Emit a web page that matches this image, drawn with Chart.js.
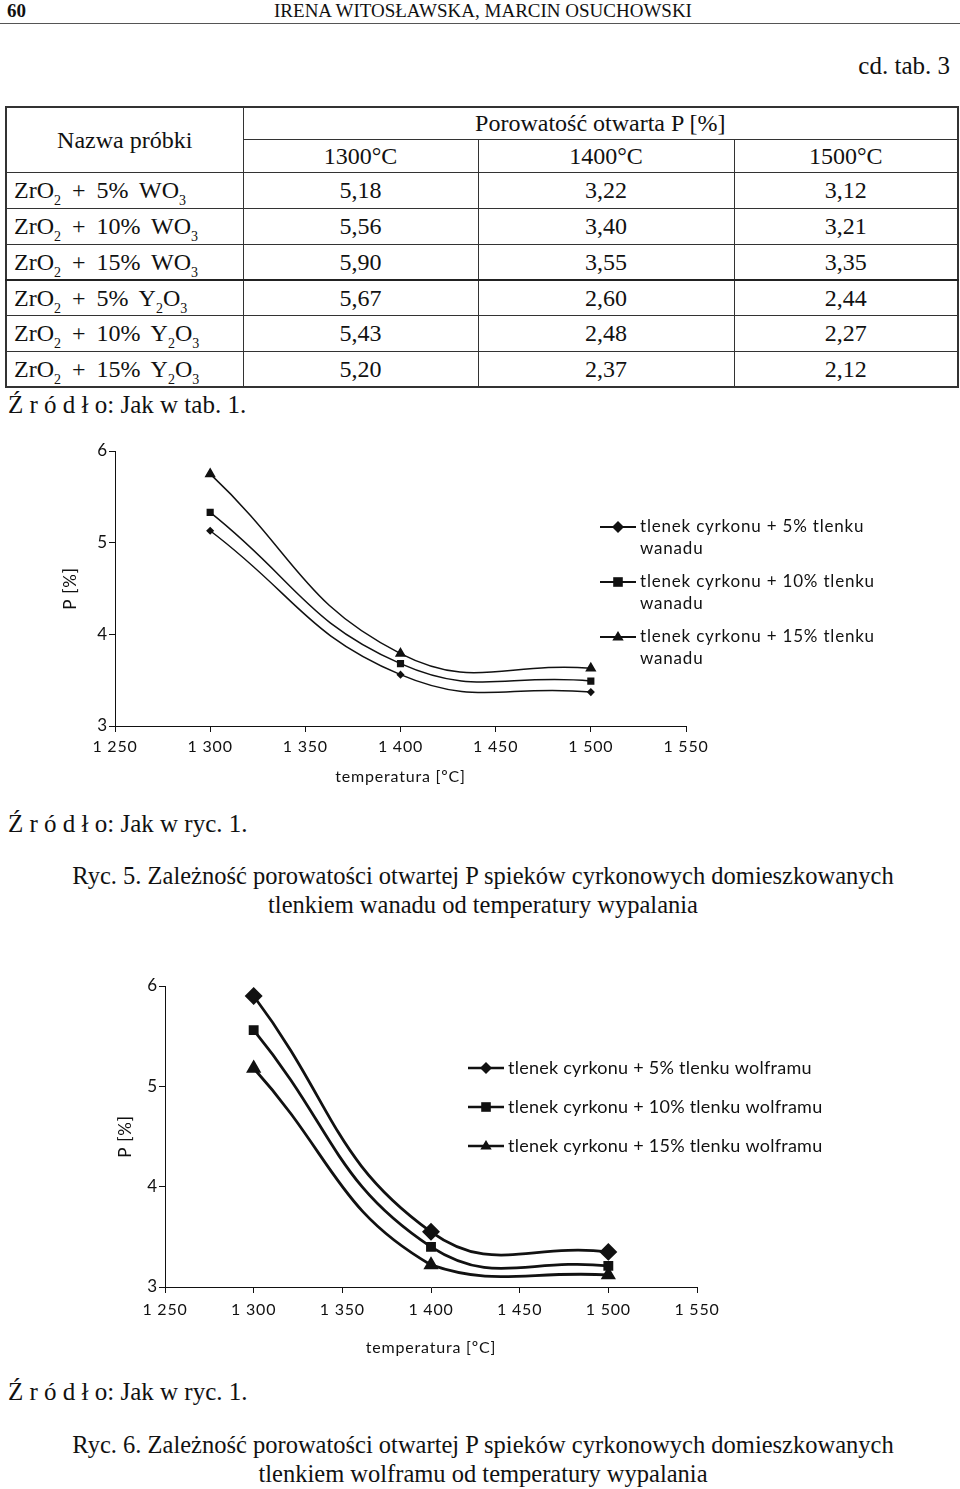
<!DOCTYPE html>
<html lang="pl">
<head>
<meta charset="utf-8">
<script src="https://cdn.jsdelivr.net/npm/chart.js@4.4.0/dist/chart.umd.min.js"></script>
<style>
  body { margin: 0; width: 960px; height: 1489px; position: relative; background: #fff; overflow: hidden;
         font-family: "Liberation Serif", "Times New Roman", serif; color: #111; }
  .t { position: absolute; white-space: nowrap; line-height: 1.15; }
  .rule { position: absolute; left: 0; top: 23px; width: 960px; height: 1px; background: #555; }
  table { position: absolute; left: 5px; top: 106px; width: 952px; border-collapse: collapse; table-layout: fixed;
          font-family: "Liberation Serif", serif; font-size: 24px; border: 2px solid #333; }
  td { border: 1.5px solid #333; padding: 0; text-align: center; line-height: 22px; }
  td.name { text-align: left; padding-left: 7px; word-spacing: 5px; }
  tr.sep td { border-top: 2.5px solid #222; }
  sub { font-size: 14px; vertical-align: -7px; line-height: 0; }
  .src { font-size: 25px; }
  .cap { font-size: 24.5px; width: 960px; left: 3px; text-align: center; }
  canvas { position: absolute; left: 0; }
</style>
</head>
<body>
<div class="t" style="left:7px;top:0;font-size:19px;font-weight:bold;">60</div>
<div class="t" style="left:0;width:966px;text-align:center;top:0;font-size:19px;">IRENA WITOSŁAWSKA, MARCIN OSUCHOWSKI</div>
<div class="rule"></div>
<div class="t" style="right:10px;top:52px;font-size:25px;">cd. tab. 3</div>

<table>
  <colgroup><col style="width:237px"><col style="width:235px"><col style="width:256px"><col style="width:224px"></colgroup>
  <tr style="height:32px"><td rowspan="2">Nazwa próbki</td><td colspan="3">Porowatość otwarta P [%]</td></tr>
  <tr style="height:33px"><td>1300°C</td><td>1400°C</td><td>1500°C</td></tr>
  <tbody id="rows"></tbody>
</table>

<div class="t src" style="left:8px;top:391px;">Ź r ó d ł o: Jak w tab. 1.</div>
<canvas id="c1" width="960" height="370" style="top:430px;width:960px;height:370px;"></canvas>
<div class="t src" style="left:8px;top:810px;">Ź r ó d ł o: Jak w ryc. 1.</div>
<div class="t cap" style="top:862px;">Ryc. 5. Zależność porowatości otwartej P spieków cyrkonowych domieszkowanych</div>
<div class="t cap" style="top:891px;">tlenkiem wanadu od temperatury wypalania</div>

<canvas id="c2" width="960" height="400" style="top:970px;width:960px;height:400px;"></canvas>
<div class="t src" style="left:8px;top:1378px;">Ź r ó d ł o: Jak w ryc. 1.</div>
<div class="t cap" style="top:1431px;">Ryc. 6. Zależność porowatości otwartej P spieków cyrkonowych domieszkowanych</div>
<div class="t cap" style="top:1460px;">tlenkiem wolframu od temperatury wypalania</div>

<script>
// table 3 (continued)
const sampleNames = [
  'ZrO<sub>2</sub> + 5% WO<sub>3</sub>',
  'ZrO<sub>2</sub> + 10% WO<sub>3</sub>',
  'ZrO<sub>2</sub> + 15% WO<sub>3</sub>',
  'ZrO<sub>2</sub> + 5% Y<sub>2</sub>O<sub>3</sub>',
  'ZrO<sub>2</sub> + 10% Y<sub>2</sub>O<sub>3</sub>',
  'ZrO<sub>2</sub> + 15% Y<sub>2</sub>O<sub>3</sub>'
];
const p1300 = ['5,18', '5,56', '5,90', '5,67', '5,43', '5,20'];
const p1400 = ['3,22', '3,40', '3,55', '2,60', '2,48', '2,37'];
const p1500 = ['3,12', '3,21', '3,35', '2,44', '2,27', '2,12'];
const rowHeights = [36, 36, 36, 35, 36, 36];

// Ryc. 5 - tlenek wanadu
const temps = [1300, 1400, 1500];
const vanadium5 = [5.13, 3.56, 3.37];
const vanadium10 = [5.33, 3.68, 3.49];
const vanadium15 = [5.75, 3.79, 3.63];
const vanadiumLabels = [
  ['tlenek cyrkonu + 5% tlenku', 'wanadu'],
  ['tlenek cyrkonu + 10% tlenku', 'wanadu'],
  ['tlenek cyrkonu + 15% tlenku', 'wanadu']
];

// Ryc. 6 - tlenek wolframu (as plotted)
const tungsten5 = [5.90, 3.55, 3.35];
const tungsten10 = [5.56, 3.40, 3.21];
const tungsten15 = [5.18, 3.22, 3.12];
const tungstenLabels = [
  ['tlenek cyrkonu + 5% tlenku wolframu'],
  ['tlenek cyrkonu + 10% tlenku wolframu'],
  ['tlenek cyrkonu + 15% tlenku wolframu']
];

const xTicks = { min: 1250, max: 1550, step: 50 };
const yTicks = { min: 3, max: 6, step: 1 };
const markers = ['rectRot', 'rect', 'triangle'];

const tbody = document.getElementById('rows');
sampleNames.forEach((name, i) => {
  const tr = document.createElement('tr');
  tr.style.height = rowHeights[i] + 'px';
  if (i === 3) tr.className = 'sep';
  tr.innerHTML = `<td class="name">${name}</td><td>${p1300[i]}</td><td>${p1400[i]}</td><td>${p1500[i]}</td>`;
  tbody.appendChild(tr);
});

function marker(ctx, style, r, x, y) {
  ctx.beginPath();
  if (style === 'rectRot') {
    ctx.moveTo(x, y - r); ctx.lineTo(x + r, y); ctx.lineTo(x, y + r); ctx.lineTo(x - r, y);
  } else if (style === 'rect') {
    ctx.rect(x - r * 0.8, y - r * 0.8, r * 1.6, r * 1.6);
  } else {
    ctx.moveTo(x, y - r); ctx.lineTo(x + r * 0.95, y + r * 0.6); ctx.lineTo(x - r * 0.95, y + r * 0.6);
  }
  ctx.closePath();
  ctx.fill();
}

// wider letter spacing, like the scanned Calibri labels
const spacing = {
  id: 'spacing',
  beforeLayout(chart) { chart.ctx.letterSpacing = '0.8px'; },
  beforeDraw(chart) { chart.ctx.letterSpacing = '0.8px'; }
};

const sideLegend = {
  id: 'sideLegend',
  afterDraw(chart, args, opts) {
    const ctx = chart.ctx;
    ctx.save();
    ctx.font = opts.font;
    ctx.letterSpacing = opts.letterSpacing;
    ctx.textBaseline = 'middle';
    ctx.fillStyle = '#111';
    ctx.strokeStyle = '#111';
    opts.labels.forEach((lines, i) => {
      const y = opts.y + i * opts.step;
      ctx.lineWidth = opts.lineWidth;
      ctx.beginPath(); ctx.moveTo(opts.x, y); ctx.lineTo(opts.x + 36, y); ctx.stroke();
      marker(ctx, markers[i], opts.radius, opts.x + 18, y);
      lines.forEach((line, j) => ctx.fillText(line, opts.x + 40, y + j * opts.lineHeight));
    });
    ctx.restore();
  }
};

function makeChart(id, series, cfg) {
  const datasets = series.map((vals, i) => ({
    data: temps.map((t, k) => ({ x: t, y: vals[k] })),
    borderColor: '#111',
    backgroundColor: '#111',
    borderWidth: cfg.lineWidth,
    pointStyle: markers[i],
    pointRadius: cfg.radius[i],
    pointBackgroundColor: '#111',
    pointBorderColor: '#111',
    tension: 0.45,
    fill: false
  }));
  const tickFont = { family: 'Lato, "Open Sans", sans-serif', size: 16 };
  new Chart(document.getElementById(id), {
    type: 'line',
    data: { datasets },
    plugins: [spacing, sideLegend],
    options: {
      responsive: false,
      animation: false,
      events: [],
      layout: { padding: { left: 0, top: cfg.padTop, right: cfg.padRight, bottom: 0 } },
      plugins: {
        legend: { display: false },
        tooltip: { enabled: false },
        sideLegend: cfg.legend
      },
      scales: {
        x: {
          type: 'linear', min: xTicks.min, max: xTicks.max,
          afterFit: s => { s.height = cfg.xHeight; },
          ticks: {
            stepSize: xTicks.step, color: '#111', font: tickFont, padding: cfg.xTickPad, maxRotation: 0,
            callback: v => String(v).replace(/\B(?=(\d{3})+(?!\d))/g, ' ')
          },
          grid: { drawOnChartArea: false, drawTicks: true, tickLength: 6, color: '#111' },
          border: { display: true, color: '#111', width: 1 },
          title: { display: true, text: 'temperatura [ºC]', color: '#111', font: tickFont, padding: { top: 0, bottom: cfg.xTitlePad } }
        },
        y: {
          min: yTicks.min, max: yTicks.max,
          afterFit: s => { s.width = cfg.yWidth; },
          ticks: { stepSize: yTicks.step, color: '#111', font: { family: tickFont.family, size: 17 }, padding: 1 },
          grid: { drawOnChartArea: false, drawTicks: true, tickLength: 6, color: '#111' },
          border: { display: true, color: '#111', width: 1 },
          title: { display: true, text: 'P [%]', color: '#111', font: { family: tickFont.family, size: 17 }, padding: { top: cfg.yTitlePad, bottom: 0 } }
        }
      }
    }
  });
}

makeChart('c1', [vanadium5, vanadium10, vanadium15], {
  lineWidth: 1.5, radius: [3, 4, 5],
  padTop: 21, padRight: 274, xHeight: 74, yWidth: 115, xTickPad: 5, xTitlePad: 14, yTitlePad: 60,
  legend: { labels: vanadiumLabels, x: 600, y: 97, step: 55, lineHeight: 22, radius: 6, lineWidth: 2,
            font: '17px Lato, "Open Sans", sans-serif', letterSpacing: '0.8px' }
});

makeChart('c2', [tungsten5, tungsten10, tungsten15], {
  lineWidth: 2.8, radius: [7, 5, 6],
  padTop: 16, padRight: 263, xHeight: 83, yWidth: 165, xTickPad: 7, xTitlePad: 13, yTitlePad: 115,
  legend: { labels: tungstenLabels, x: 468, y: 98, step: 39, lineHeight: 22, radius: 6, lineWidth: 2.5,
            font: '18px Lato, "Open Sans", sans-serif', letterSpacing: '0.25px' }
});
</script>
</body>
</html>
